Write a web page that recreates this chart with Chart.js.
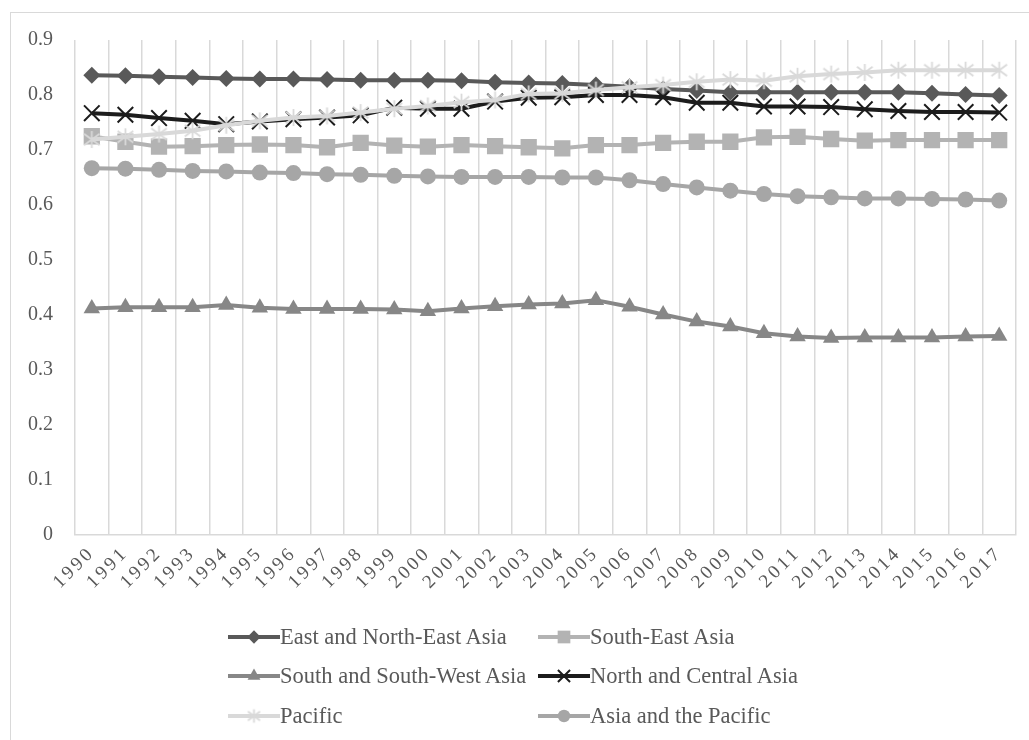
<!DOCTYPE html>
<html>
<head>
<meta charset="utf-8">
<title>Asia-Pacific regional index, 1990-2017</title>
<script src="https://cdn.jsdelivr.net/npm/chart.js@4.4.1/dist/chart.umd.min.js"></script>
<style>
  html, body { margin: 0; padding: 0; background: #ffffff; }
  #wrap { position: relative; width: 1029px; height: 740px; overflow: hidden; }
  #frame {
    position: absolute; left: 10px; top: 12px; width: 1100px; height: 800px;
    border-left: 1px solid #d9d9d9; border-top: 1px solid #d9d9d9;
  }
  #chart { position: absolute; left: 0; top: 0; }
  #legend {
    position: absolute; left: 228px; top: 617px;
    display: grid; grid-template-columns: 310px 310px; grid-auto-rows: 39.5px;
    font-family: "Liberation Serif", "Times New Roman", serif;
    font-size: 22.5px; color: #595959;
  }
  .item { display: flex; align-items: center; white-space: nowrap; }
  .item canvas { display: block; margin-right: 0; }
</style>
</head>
<body>
<div id="wrap">
  <div id="frame"></div>
  <canvas id="chart" width="1029" height="740"></canvas>
  <div id="legend"></div>
</div>
<script>
// Years on the category axis
const years = ['1990','1991','1992','1993','1994','1995','1996','1997','1998','1999',
               '2000','2001','2002','2003','2004','2005','2006','2007','2008','2009',
               '2010','2011','2012','2013','2014','2015','2016','2017'];

// Value-axis tick labels (0 to 0.9, step 0.1)
const yTickLabels = ['0','0.1','0.2','0.3','0.4','0.5','0.6','0.7','0.8','0.9'];

// Series names
const seriesNames = ['East and North-East Asia','South-East Asia','South and South-West Asia',
                     'North and Central Asia','Pacific','Asia and the Pacific'];

// Series values, 1990-2017
const eastNorthEastAsia = [0.836,0.835,0.833,0.832,0.830,0.829,0.829,0.828,0.827,0.827,
                           0.827,0.826,0.823,0.822,0.821,0.818,0.815,0.811,0.808,0.805,
                           0.805,0.805,0.805,0.805,0.805,0.803,0.801,0.799];
const southEastAsia = [0.725,0.715,0.706,0.707,0.709,0.710,0.709,0.705,0.713,0.708,
                       0.706,0.709,0.707,0.705,0.703,0.709,0.709,0.713,0.715,0.715,
                       0.723,0.724,0.720,0.717,0.718,0.718,0.718,0.718];
const southSouthWestAsia = [0.412,0.414,0.414,0.414,0.418,0.413,0.411,0.411,0.411,0.410,
                            0.407,0.412,0.416,0.419,0.421,0.427,0.415,0.401,0.388,0.379,
                            0.367,0.361,0.358,0.359,0.359,0.359,0.361,0.362];
const northCentralAsia = [0.767,0.764,0.758,0.753,0.747,0.752,0.756,0.759,0.763,0.777,
                          0.775,0.775,0.788,0.795,0.796,0.800,0.800,0.796,0.786,0.786,
                          0.779,0.779,0.778,0.774,0.771,0.769,0.769,0.768];
const pacific = [0.719,0.724,0.729,0.735,0.745,0.753,0.759,0.762,0.768,0.775,
                 0.780,0.787,0.791,0.802,0.803,0.809,0.814,0.818,0.824,0.828,
                 0.826,0.834,0.838,0.841,0.845,0.845,0.845,0.845];
const asiaPacific = [0.667,0.666,0.664,0.662,0.661,0.659,0.658,0.656,0.655,0.653,
                     0.652,0.651,0.651,0.651,0.650,0.650,0.645,0.638,0.632,0.626,
                     0.620,0.616,0.614,0.612,0.612,0.611,0.610,0.608];

const SERIF = '"Liberation Serif", "Times New Roman", serif';
const TEXT = '#595959';
const GRID = '#d9d9d9';

// Asterisk marker: a vertical stroke crossed by two diagonals
function asteriskMarker(r, color, lw) {
  const s = Math.ceil(2 * r + 2 * lw);
  const c = document.createElement('canvas');
  c.width = s; c.height = s;
  const ctx = c.getContext('2d');
  const m = s / 2;
  ctx.strokeStyle = color;
  ctx.lineWidth = lw;
  ctx.beginPath();
  ctx.moveTo(m, m - r); ctx.lineTo(m, m + r);
  const dx = r * 0.92, dy = r * 0.68;
  ctx.moveTo(m - dx, m - dy); ctx.lineTo(m + dx, m + dy);
  ctx.moveTo(m - dx, m + dy); ctx.lineTo(m + dx, m - dy);
  ctx.stroke();
  return c;
}

const seriesValues = [eastNorthEastAsia, southEastAsia, southSouthWestAsia,
                      northCentralAsia, pacific, asiaPacific];

const styles = [
  { color: '#595959', point: 'rectRot',  radius: 8.5,  border: 0 },
  { color: '#b3b3b3', point: 'rect',     radius: 11.5, border: 0 },
  { color: '#878787', point: 'triangle', radius: 9.5,  border: 0 },
  { color: '#1c1c1c', point: 'crossRot', radius: 11,   border: 2 },
  { color: '#d9d9d9', point: 'asterisk', radius: 8.5,  border: 1.8 },
  { color: '#a6a6a6', point: 'circle',   radius: 8,    border: 0 }
];

const datasets = seriesNames.map((name, i) => {
  const st = styles[i];
  const ps = st.point === 'asterisk' ? asteriskMarker(st.radius, st.color, st.border) : st.point;
  return {
    label: name,
    data: seriesValues[i],
    borderColor: st.color,
    backgroundColor: st.color,
    borderWidth: 4,
    pointStyle: ps,
    pointRadius: st.radius,
    pointHoverRadius: st.radius,
    pointBackgroundColor: st.color,
    pointBorderColor: st.color,
    pointBorderWidth: st.border,
    tension: 0,
    // later series are painted on top
    order: seriesNames.length - i
  };
});

Chart.defaults.font.family = SERIF;
Chart.defaults.color = TEXT;

const chart = new Chart(document.getElementById('chart'), {
  type: 'line',
  data: { labels: years, datasets: datasets },
  options: {
    responsive: false,
    devicePixelRatio: 1,
    animation: false,
    events: [],
    layout: { padding: { top: 40, right: 12, left: 0, bottom: 0 } },
    plugins: { legend: { display: false }, tooltip: { enabled: false } },
    scales: {
      x: {
        type: 'category',
        offset: true,
        grid: { display: true, offset: true, color: GRID, lineWidth: 1.5, drawTicks: false },
        border: { display: true, color: GRID, width: 1.5 },
        ticks: {
          color: TEXT,
          font: { size: 19, family: SERIF },
          minRotation: 45, maxRotation: 45,
          autoSkip: false,
          padding: 7
        },
        afterFit(scale) { scale.height = 205; },
        // year labels are drawn with open letter spacing
        afterUpdate(scale) {
          if (scale._spacedLabels) return;
          const drawLabels = scale.drawLabels.bind(scale);
          scale.drawLabels = function (area) {
            const ctx = this.ctx;
            ctx.save();
            ctx.letterSpacing = '3px';
            drawLabels(area);
            ctx.restore();
          };
          scale._spacedLabels = true;
        }
      },
      y: {
        min: 0, max: 0.9,
        grid: { display: false, drawTicks: false },
        border: { display: false },
        ticks: {
          stepSize: 0.1,
          color: TEXT,
          font: { size: 20, family: SERIF },
          padding: 22,
          callback: (value, index) => yTickLabels[index]
        },
        afterFit(scale) { scale.width = 75; }
      }
    }
  }
});

// Two-column legend built from the datasets: line segment with marker, then name
const legend = document.getElementById('legend');
datasets.forEach((ds, i) => {
  const st = styles[i];
  const item = document.createElement('div');
  item.className = 'item';
  const sw = document.createElement('canvas');
  sw.width = 52; sw.height = 28;
  const ctx = sw.getContext('2d');
  ctx.strokeStyle = st.color;
  ctx.lineWidth = 4;
  ctx.beginPath(); ctx.moveTo(0, 14); ctx.lineTo(52, 14); ctx.stroke();
  ctx.fillStyle = st.color;
  ctx.strokeStyle = st.color;
  ctx.lineWidth = st.border;
  const r = st.radius * 0.78;
  const ps = st.point === 'asterisk' ? asteriskMarker(r, st.color, st.border) : st.point;
  Chart.helpers.drawPoint(ctx, { pointStyle: ps, rotation: 0, radius: r, borderWidth: st.border }, 26, 14);
  const label = document.createElement('span');
  label.textContent = ds.label;
  item.appendChild(sw);
  item.appendChild(label);
  legend.appendChild(item);
});
</script>
</body>
</html>
